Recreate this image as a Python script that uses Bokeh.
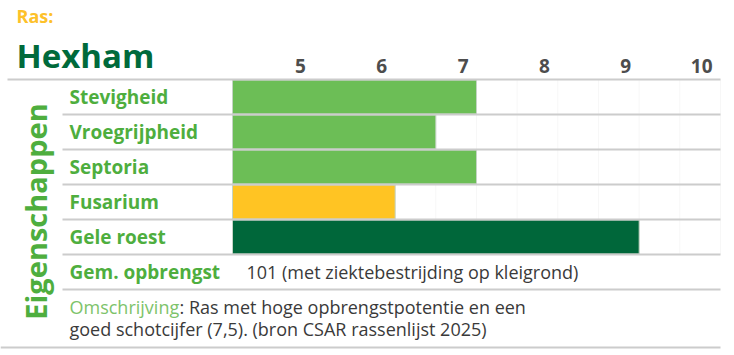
from math import pi
from bokeh.plotting import figure
from bokeh.models import Range1d
from bokeh.core.properties import value
from bokeh.embed import file_html
from bokeh.resources import INLINE

# ---- data ----
variety = "Hexham"
categories = ["Stevigheid", "Vroegrijpheid", "Septoria", "Fusarium", "Gele roest"]
scores = [7.0, 6.5, 7.0, 6.0, 9.0]
bar_colors = ["#6CBE56", "#6CBE56", "#6CBE56", "#FFC423", "#00673A"]
tick_values = [5, 6, 7, 8, 9, 10]
scale_min = 4
scale_max = 10
yield_label = "Gem. opbrengst"
yield_text = "101 (met ziektebestrijding op kleigrond)"
desc_label = "Omschrijving"
desc_line1 = ": Ras met hoge opbrengstpotentie en een"
desc_line2 = "goed schotcijfer (7,5). (bron CSAR rassenlijst 2025)"

# ---- layout (pixels) ----
W, H = 734, 355
bar_x0, bar_x1 = 232, 720
row_top, row_h = 79, 35
ppu = (bar_x1 - bar_x0) / (scale_max - scale_min)
v0 = scale_min - bar_x0 / ppu
v1 = v0 + W / ppu

FONT = value("Open Sans")
GREEN = "#4EAE3E"

p = figure(width=W, height=H, x_range=Range1d(0, W), y_range=Range1d(H, 0),
           output_backend="svg", toolbar_location=None,
           x_axis_type=None, y_axis_type=None, min_border=0)
p.min_border_left = p.min_border_right = p.min_border_top = p.min_border_bottom = 0
p.grid.visible = False
p.outline_line_color = None
p.background_fill_color = "white"
p.extra_x_ranges = {"val": Range1d(v0, v1)}

n = len(categories)
centers = [row_top + row_h * (i + 0.5) for i in range(n)]

# very faint vertical gridlines every half unit
half_steps = [scale_min + 0.5 * k for k in range(int((scale_max - scale_min) * 2) + 1)]
p.segment(x0=half_steps, x1=half_steps, y0=[row_top] * len(half_steps),
          y1=[row_top + row_h * n] * len(half_steps), x_range_name="val",
          line_color="#f7f7f7", line_width=1)

# bars
p.hbar(y=centers, height=row_h - 1, left=[scale_min] * n, right=scores,
       x_range_name="val", fill_color=bar_colors, line_color="#c4d4c4", line_width=1)

# horizontal rules
ys = [row_top + row_h * i for i in range(1, n + 2)]
p.segment(x0=[62] * len(ys), x1=[bar_x1] * len(ys), y0=ys, y1=ys,
          line_color="#cccccc", line_width=2)
p.segment(x0=[7], x1=[bar_x1], y0=[row_top], y1=[row_top], line_color="#cccccc", line_width=2)
p.segment(x0=[0], x1=[bar_x1], y0=[347], y1=[347], line_color="#cccccc", line_width=2)

# tick labels
p.text(x=tick_values, y=[65] * len(tick_values), text=[str(t) for t in tick_values],
       x_range_name="val", x_offset=-8, text_align="right", text_baseline="middle",
       text_font=FONT, text_font_style="bold", text_font_size="19px", text_color="#4D4D4D")

# titles
p.text(x=[16], y=[15], text=["Ras:"], text_align="left", text_baseline="middle",
       text_font=FONT, text_font_style="bold", text_font_size="18px", text_color="#FDC12A")
p.text(x=[16], y=[55], text=[variety], text_align="left", text_baseline="middle",
       text_font=FONT, text_font_style="bold", text_font_size="33px", text_color="#006A3B")
p.text(x=[35], y=[211], text=["Eigenschappen"], angle=pi / 2, text_align="center",
       text_baseline="middle", text_font=FONT, text_font_style="bold",
       text_font_size="29px", text_color=GREEN)

# row labels
p.text(x=[69] * n, y=centers, text=categories, text_align="left", text_baseline="middle",
       text_font=FONT, text_font_style="bold", text_font_size="19px", text_color=GREEN)
yc = row_top + row_h * (n + 0.5)
p.text(x=[69], y=[yc], text=[yield_label], text_align="left", text_baseline="middle",
       text_font=FONT, text_font_style="bold", text_font_size="19px", text_color=GREEN)
p.text(x=[246], y=[yc], text=[yield_text], text_align="left", text_baseline="middle",
       text_font=FONT, text_font_size="18px", text_color="#3A3A3A")

# description
p.text(x=[69], y=[306], text=[desc_label], text_align="left", text_baseline="middle",
       text_font=FONT, text_font_size="18px", text_color="#7DC36A")
p.text(x=[179], y=[306], text=[desc_line1], text_align="left", text_baseline="middle",
       text_font=FONT, text_font_size="18px", text_color="#3A3A3A")
p.text(x=[69], y=[328], text=[desc_line2], text_align="left", text_baseline="middle",
       text_font=FONT, text_font_size="18px", text_color="#3A3A3A")

open("out.html", "w").write(file_html(p, INLINE))
